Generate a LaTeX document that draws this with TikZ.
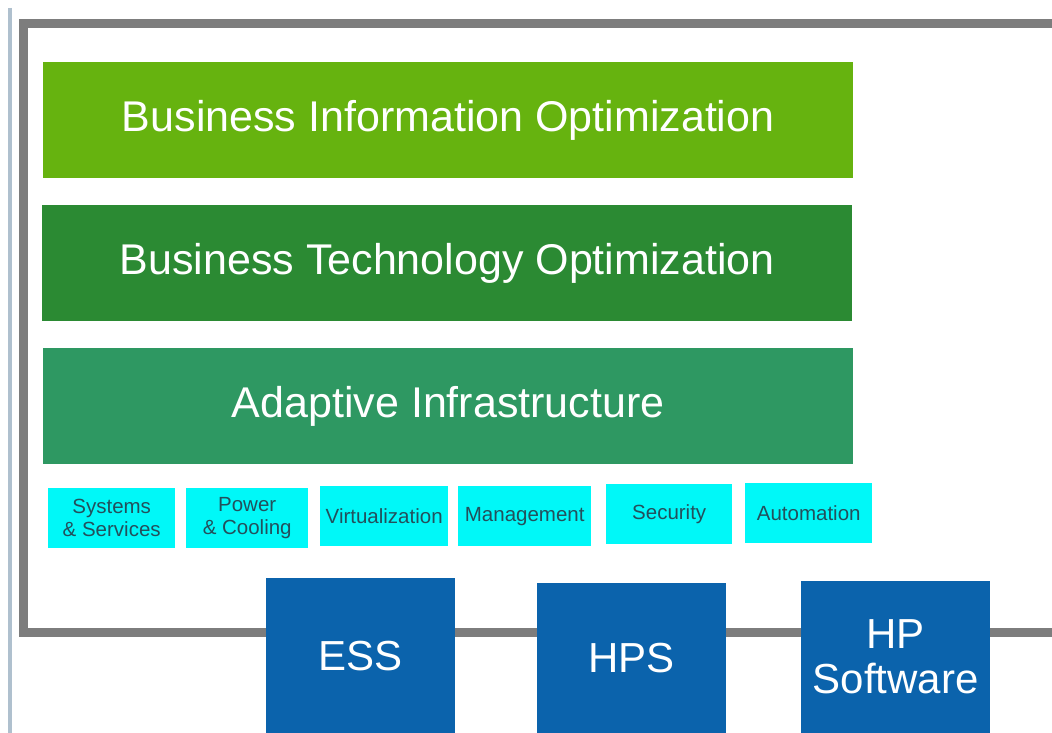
\documentclass[tikz,border=0pt]{standalone}
\usepackage{fontspec}
\setmainfont{Liberation Sans}
\definecolor{gOne}{HTML}{66B30F}
\definecolor{gTwo}{HTML}{2B8A33}
\definecolor{gThree}{HTML}{2E9862}
\definecolor{cyanbox}{HTML}{00F8F8}
\definecolor{bluebox}{HTML}{0B63AC}
\definecolor{framegray}{HTML}{7D7D7D}
\definecolor{leftbar}{HTML}{AFC0CE}
\definecolor{smalltext}{HTML}{23505C}
\tikzset{
  layer/.style={anchor=north west, minimum width=810pt, minimum height=116pt, inner sep=0pt,
    text=white, font=\fontsize{43}{48}\selectfont},
  tag/.style={anchor=north west, minimum height=60pt, inner sep=0pt, fill=cyanbox,
    text=smalltext, align=center, font=\fontsize{20.5}{23}\selectfont},
  prod/.style={anchor=north west, minimum width=189pt, inner sep=0pt, fill=bluebox,
    text=white, align=center, font=\fontsize{42}{45}\selectfont},
}
\begin{document}
\begin{tikzpicture}[x=1pt,y=-1pt]
\useasboundingbox (0,0) rectangle (1052,733);
\fill[white] (0,0) rectangle (1052,733);
% left light bar
\draw[leftbar, line width=4pt] (10,8) -- (10,733);
% frame
\draw[framegray, line width=9pt] (1070,24) -- (23,24) -- (23,632) -- (1070,632);
% layers
\node[layer, fill=gOne] (bio) at (43,62) {Business Information Optimization};
\node[layer, fill=gTwo] (bto) at (42,205) {Business Technology Optimization};
\node[layer, fill=gThree] (ai) at (43,348) {Adaptive Infrastructure};
% cyan tags
\node[tag, minimum width=127pt] (sys) at (48,488) {Systems\\\& Services};
\node[tag, minimum width=122pt] (pow) at (186,488) {Power\\\& Cooling};
\node[tag, minimum width=128pt] (virt) at (320,486) {Virtualization};
\node[tag, minimum width=133pt] (mgmt) at (458,486) {Management};
\node[tag, minimum width=126pt] (sec) at (606,484) {Security};
\node[tag, minimum width=127pt] (auto) at (745,483) {Automation};
% products
\node[prod, minimum height=155pt] (ess) at (266,578) {ESS};
\node[prod, minimum height=150pt] (hps) at (537,583) {HPS};
\node[prod, minimum height=152pt] (hpsw) at (801,581) {HP\\Software};
\end{tikzpicture}
\end{document}
